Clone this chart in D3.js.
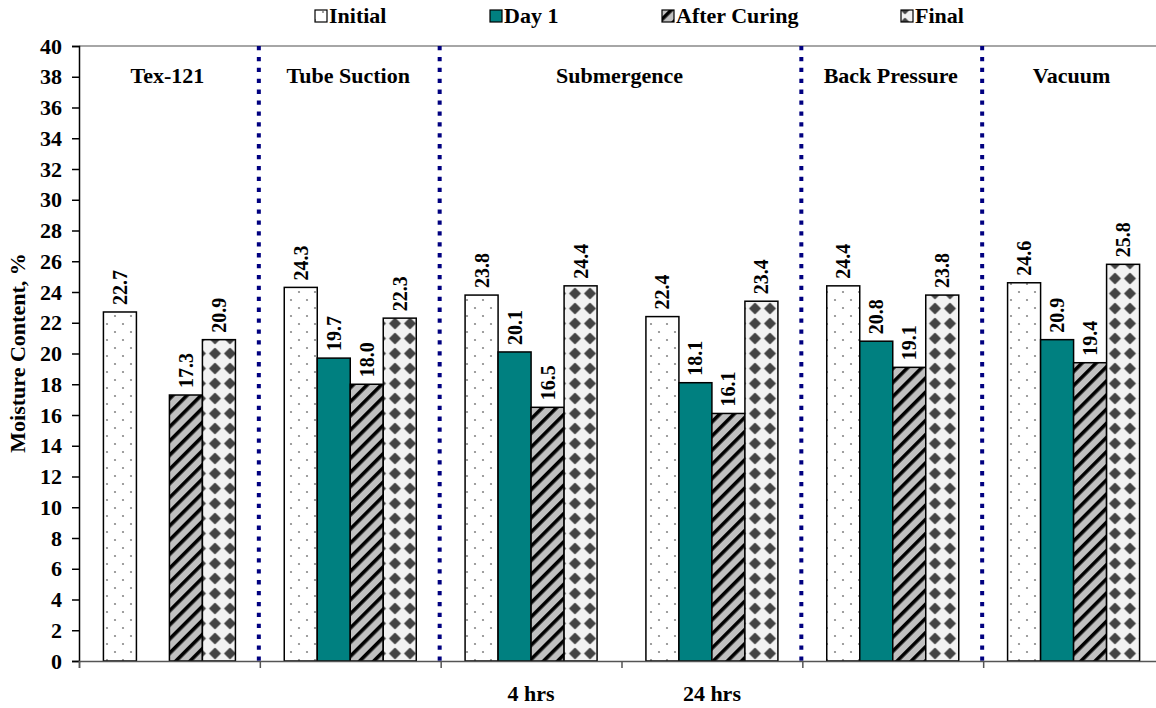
<!DOCTYPE html>
<html><head><meta charset="utf-8">
<script src="https://cdn.jsdelivr.net/npm/d3@7"></script>
<style>body{margin:0;background:#fff}svg{display:block}text{font-family:"Liberation Serif","Times New Roman",serif;font-weight:bold}</style>
</head><body><svg id="c" width="1156" height="708"></svg>
<script>
const categories = ["Tex-121","Tube Suction","Sub 4 hrs","Sub 24 hrs","Back Pressure","Vacuum"];
const seriesNames = ["Initial","Day 1","After Curing","Final"];
const initial = [22.7,24.3,23.8,22.4,24.4,24.6];
const day1 = [null,19.7,20.1,18.1,20.8,20.9];
const afterCuring = [17.3,18.0,16.5,16.1,19.1,19.4];
const finalV = [20.9,22.3,24.4,23.4,23.8,25.8];
const yTicks = d3.range(0,41,2);
const groupLabels = [{text:"Tex-121",from:0,to:0},{text:"Tube Suction",from:1,to:1},{text:"Submergence",from:2,to:3},{text:"Back Pressure",from:4,to:4},{text:"Vacuum",from:5,to:5}];
const subLabels = [{text:"4 hrs",cat:2},{text:"24 hrs",cat:3}];
const dividers = [1,2,4,5];

const svg = d3.select("#c");
const X0=79, X1=1164, Y0=661, Y1=46;
const FS=22;
const x = d3.scaleBand().domain(categories).range([X0,X1]).paddingInner(0).paddingOuter(0);
const xi = d3.scaleBand().domain(seriesNames).range([0,x.bandwidth()]).paddingInner(0).paddingOuter(0.74);
const y = d3.scaleLinear().domain([0,40]).range([Y0,Y1]);

const defs = svg.append("defs");
let p = defs.append("pattern").attr("id","pInit").attr("patternUnits","userSpaceOnUse").attr("width",16).attr("height",16).attr("x",X0+24).attr("y",0);
p.append("rect").attr("width",16).attr("height",16).attr("fill","#fff");
p.append("circle").attr("cx",4).attr("cy",4).attr("r",1.1).attr("fill","#888");
p.append("circle").attr("cx",12).attr("cy",12).attr("r",1.1).attr("fill","#888");
p = defs.append("pattern").attr("id","pCure").attr("patternUnits","userSpaceOnUse").attr("width",10).attr("height",10).attr("patternTransform","rotate(45)");
p.append("rect").attr("width",10).attr("height",10).attr("fill","#c0c0c0");
p.append("rect").attr("width",3.6).attr("height",10).attr("fill","#000");
p = defs.append("pattern").attr("id","pFinal").attr("patternUnits","userSpaceOnUse").attr("width",15).attr("height",15).attr("x",-2.5).attr("y",Y0);
p.append("rect").attr("width",15).attr("height",15).attr("fill","#f2f2f2");
p.append("path").attr("d","M7.5,2.5 L12.5,7.5 L7.5,12.5 L2.5,7.5 Z").attr("fill","#444").attr("stroke","#444").attr("stroke-width",1.5).attr("stroke-linejoin","round");
const fills = {"Initial":"url(#pInit)","Day 1":"#008080","After Curing":"url(#pCure)","Final":"url(#pFinal)"};

svg.append("line").attr("x1",X0).attr("x2",1156).attr("y1",Y1).attr("y2",Y1).attr("stroke","#888").attr("stroke-width",1.5);

const data = categories.map((c,i)=>({cat:c, vals:[initial[i],day1[i],afterCuring[i],finalV[i]]}));
const g = svg.append("g");
data.forEach(d=>{
  d.vals.forEach((v,j)=>{
    if(v==null) return;
    const s = seriesNames[j];
    const bx = x(d.cat)+xi(s);
    g.append("rect").attr("x",bx).attr("y",y(v)).attr("width",xi.bandwidth()).attr("height",Y0-y(v))
      .attr("fill",fills[s]).attr("stroke","#000").attr("stroke-width",1.5);
    g.append("text").attr("transform",`translate(${bx+xi.bandwidth()/2+7},${y(v)-7}) rotate(-90)`)
      .attr("font-size",20).attr("text-anchor","start").text(v.toFixed(1));
  });
});

dividers.forEach(i=>{
  svg.append("line").attr("x1",x(categories[i])-1).attr("x2",x(categories[i])-1).attr("y1",Y1).attr("y2",Y0)
    .attr("stroke","#000080").attr("stroke-width",4).attr("stroke-dasharray","4.3,6.6");
});

const yAxis = d3.axisLeft(y).tickValues(yTicks).tickSize(7).tickPadding(10);
const ya = svg.append("g").attr("transform",`translate(${X0},0)`).call(yAxis);
ya.select(".domain").attr("stroke","#000").attr("stroke-width",1.5);
ya.selectAll(".tick line").attr("stroke","#000").attr("stroke-width",1.5);
ya.selectAll("text").attr("font-size",FS).attr("fill","#000").attr("font-family","Liberation Serif").attr("font-weight","bold");

const xAxis = d3.axisBottom(d3.scaleLinear().domain([0,categories.length]).range([X0,X1])).tickValues(d3.range(0,categories.length+1)).tickSize(7).tickFormat("");
const xa = svg.append("g").attr("transform",`translate(0,${Y0})`).call(xAxis);
xa.select(".domain").attr("stroke","#555").attr("stroke-width",1.5);
xa.selectAll(".tick line").attr("stroke","#555").attr("stroke-width",1.5);

groupLabels.forEach(gl=>{
  const cx = (x(categories[gl.from]) + x(categories[gl.to])+x.bandwidth())/2 - 2;
  svg.append("text").attr("x",cx).attr("y",83).attr("text-anchor","middle").attr("font-size",FS).text(gl.text);
});
subLabels.forEach(sl=>{
  svg.append("text").attr("x",x(categories[sl.cat])+x.bandwidth()/2).attr("y",701).attr("text-anchor","middle").attr("font-size",FS).text(sl.text);
});

svg.append("text").attr("transform","translate(25,353) rotate(-90)").attr("text-anchor","middle").attr("font-size",FS).text("Moisture Content, %");

const legX = [315,490,662,901];
seriesNames.forEach((s,j)=>{
  svg.append("rect").attr("x",legX[j]).attr("y",10).attr("width",12).attr("height",12).attr("fill",fills[s]).attr("stroke","#000").attr("stroke-width",1.2);
  svg.append("text").attr("x",legX[j]+14).attr("y",23).attr("font-size",FS).text(s);
});
</script></body></html>
